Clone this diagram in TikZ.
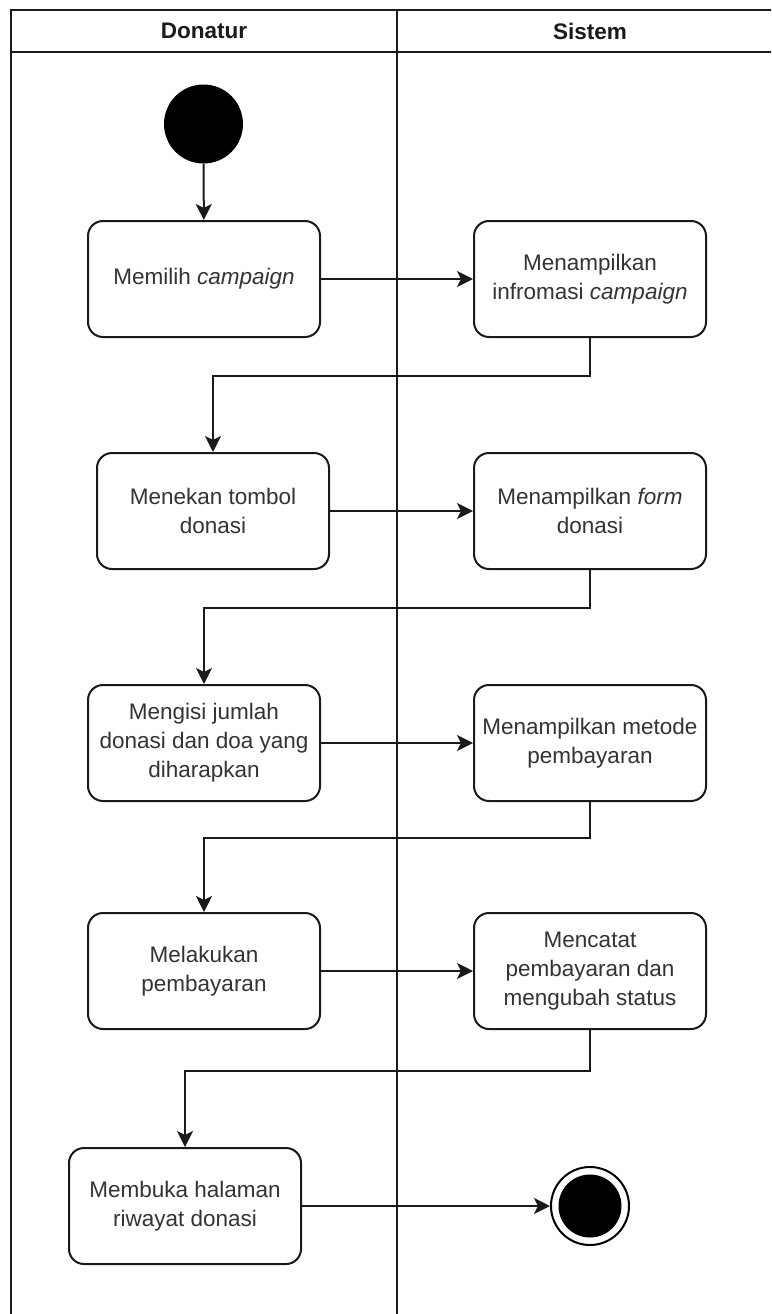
\documentclass[tikz,border=0pt]{standalone}
\usepackage{fontspec}
\setmainfont{Liberation Sans}
\usetikzlibrary{arrows.meta}
\definecolor{txt}{HTML}{333333}
\definecolor{ln}{HTML}{1A1A1A}
\begin{document}
\begin{tikzpicture}[x=1pt,y=-1pt,
  lane/.style={draw=ln,line width=2pt},
  act/.style={draw=ln,line width=2pt,rounded corners=15pt,minimum width=232pt,minimum height=116pt,
    align=center,text=txt,font=\fontsize{22.5}{29}\selectfont,inner sep=2pt},
  head/.style={text=ln,font=\fontsize{22.5}{27}\selectfont\bfseries},
  flow/.style={draw=ln,line width=2pt,-{Stealth[width=16pt,length=16pt,inset=4pt]}},
  startdot/.style={circle,fill=black,minimum size=79pt,inner sep=0pt},
  enddot/.style={circle,draw=black,line width=2pt,fill=white,minimum size=78pt,inner sep=0pt,
    path picture={\fill[black] (path picture bounding box.center) circle (31.5pt);}}
]
\useasboundingbox (0,0) rectangle (771,1314);
\fill[white] (0,0) rectangle (771,1314);
\begin{scope}
\clip (0,0) rectangle (771,1314);
% swimlane frame
\draw[lane] (11,1320) -- (11,10) -- (790,10);
\draw[lane] (11,52.5) -- (790,52.5);
\draw[lane] (397,10) -- (397,1320);
\end{scope}
\node[head] (hdon) at (204,31) {Donatur};
\node[head] (hsis) at (590,31) {Sistem};

% activities of the donor
\node[startdot] (start) at (203.5,124) {};
\node[act] (a1) at (204,279) {Memilih \textit{campaign}};
\node[act] (a2) at (213,511) {Menekan tombol\\donasi};
\node[act] (a3) at (204,743) {Mengisi jumlah\\donasi dan doa yang\\diharapkan};
\node[act] (a4) at (204,971) {Melakukan\\pembayaran};
\node[act] (a5) at (185,1206) {Membuka halaman\\riwayat donasi};

% activities of the system
\node[act] (b1) at (590,279) {Menampilkan\\infromasi \textit{campaign}};
\node[act] (b2) at (590,511) {Menampilkan \textit{form}\\donasi};
\node[act] (b3) at (590,743) {Menampilkan metode\\pembayaran};
\node[act] (b4) at (590,971) {Mencatat\\pembayaran dan\\mengubah status};
\node[enddot] (stop) at (590,1206) {};

% control flow
\draw[flow] (start) -- (a1);
\draw[flow] (a1) -- (b1);
\draw[flow] (b1.south) |- ++(0,38) -| (a2.north);
\draw[flow] (a2) -- (b2);
\draw[flow] (b2.south) |- ++(0,38) -| (a3.north);
\draw[flow] (a3) -- (b3);
\draw[flow] (b3.south) |- ++(0,36) -| (a4.north);
\draw[flow] (a4) -- (b4);
\draw[flow] (b4.south) |- ++(0,41) -| (a5.north);
\draw[flow] (a5) -- (stop);
\end{tikzpicture}
\end{document}
